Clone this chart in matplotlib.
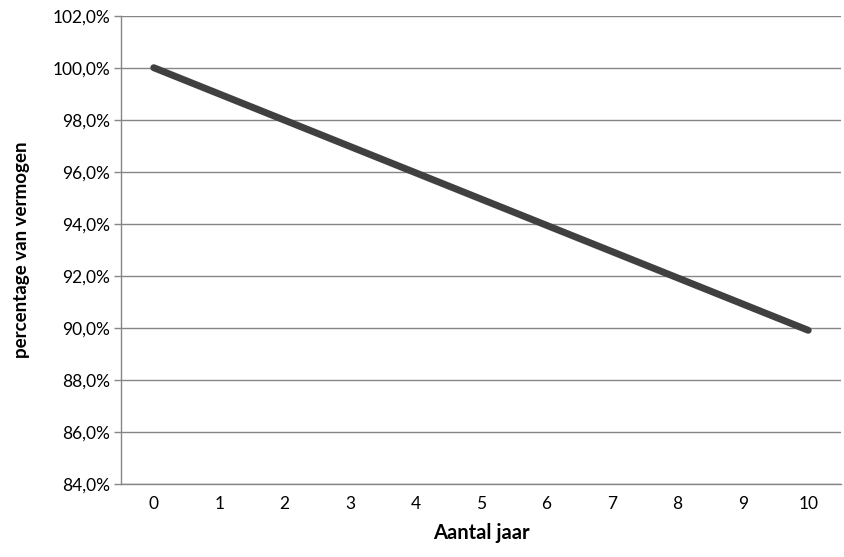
import matplotlib
matplotlib.use("Agg")
import matplotlib.pyplot as plt
from matplotlib.ticker import FuncFormatter

plt.rcParams['font.family'] = ['Lato', 'DejaVu Sans']

years = [0, 1, 2, 3, 4, 5, 6, 7, 8, 9, 10]
percentages = [100.0, 98.99, 97.98, 96.97, 95.96, 94.95, 93.94, 92.93, 91.92, 90.91, 89.9]
y_ticks = [84, 86, 88, 90, 92, 94, 96, 98, 100, 102]
x_label = "Aantal jaar"
y_label = "percentage van vermogen"

fig = plt.figure(figsize=(8.44, 5.57), dpi=100)
ax = fig.add_axes([0.1434, 0.1316, 0.8530, 0.8402])

grid_color = '#868686'
ax.plot(years, percentages, color='#404040', linewidth=5, solid_capstyle='round', zorder=3)

ax.set_xlim(-0.5, 10.5)
ax.set_ylim(84, 102)
ax.set_yticks(y_ticks)
ax.set_xticks(years)
ax.set_xticklabels([str(y) for y in years])
ax.yaxis.set_major_formatter(FuncFormatter(lambda v, p: f"{v:.1f}%".replace('.', ',')))

for v in y_ticks:
    ax.axhline(v, color=grid_color, linewidth=1.0, zorder=1)

for s in ['top', 'right']:
    ax.spines[s].set_visible(False)
ax.spines['left'].set_color(grid_color)
ax.spines['bottom'].set_color(grid_color)
ax.spines['left'].set_linewidth(1.0)
ax.spines['bottom'].set_linewidth(1.0)

ax.tick_params(axis='y', length=5, width=1.0, color=grid_color, labelsize=12.5, pad=3, labelcolor='#000000')
ax.tick_params(axis='x', length=0, labelsize=12.5, pad=9, labelcolor='#000000')

ax.set_xlabel(x_label, fontsize=14.5, fontweight='bold', labelpad=8)
ax.set_ylabel(y_label, fontsize=13.5, fontweight='bold', labelpad=16)

fig.savefig("out.png", dpi=100, facecolor='white')
